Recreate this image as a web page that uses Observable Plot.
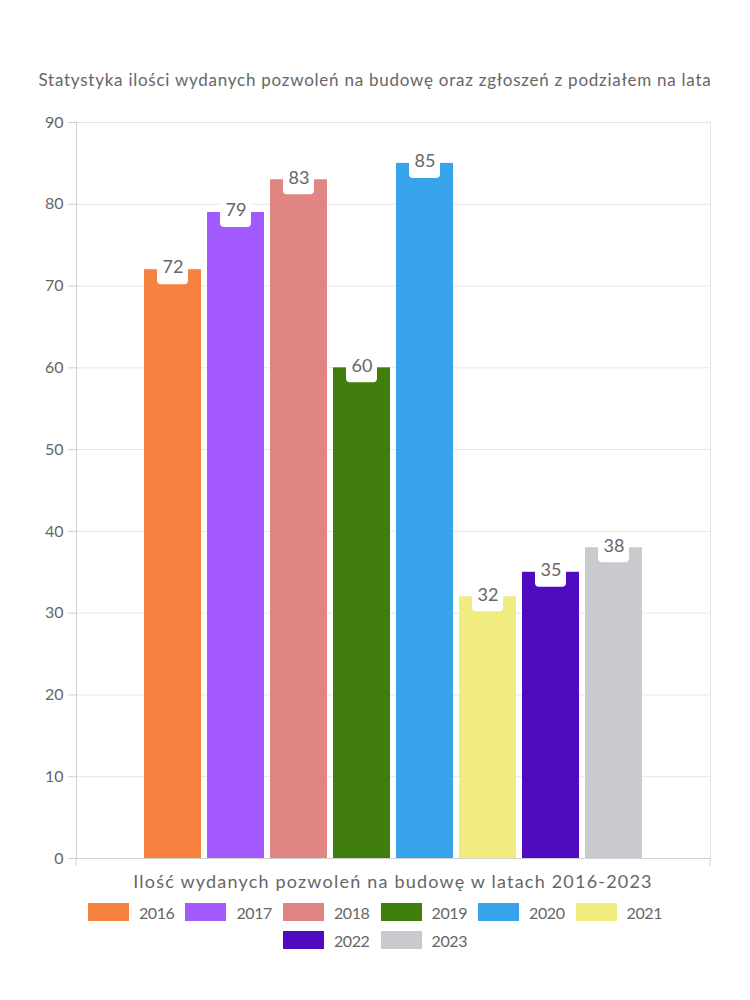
<!DOCTYPE html>
<html><head><meta charset="utf-8">
<script src="https://cdn.jsdelivr.net/npm/d3@7"></script>
<script src="https://cdn.jsdelivr.net/npm/@observablehq/plot@0.6"></script>
<style>
body{margin:0;background:#fff;font-family:Lato,sans-serif;color:#666;width:750px;}
#title{padding-top:70px;height:40px;line-height:20px;font-size:17px;letter-spacing:0.75px;text-align:center;white-space:nowrap;}
#chart svg{display:block;}
#xlabel{padding-top:2px;padding-left:76px;padding-right:40px;height:22px;line-height:22px;font-size:18px;letter-spacing:1.2px;text-align:center;white-space:nowrap;}
#legend{display:flex;flex-wrap:wrap;justify-content:center;column-gap:11px;row-gap:10px;max-width:600px;margin:11px auto 0;}
.item{display:flex;align-items:center;height:18px;font-size:16px;letter-spacing:-0.4px;}
.sw{width:41px;height:18px;margin-right:10px;}
</style></head><body>
<div id="title"></div>
<div id="chart"></div>
<div id="xlabel"></div>
<div id="legend"></div>
<script>
const titleText = "Statystyka ilości wydanych pozwoleń na budowę oraz zgłoszeń z podziałem na lata";
const xLabelText = "Ilość wydanych pozwoleń na budowę w latach 2016-2023";
const years = ["2016","2017","2018","2019","2020","2021","2022","2023"];
const values = [72, 79, 83, 60, 85, 32, 35, 38];
const colors = ["#F5833F","#A259FE","#E08484","#3F7E0C","#37A3EA","#F1EC80","#500BC1","#C9CACD"];
const yTicks = [0,10,20,30,40,50,60,70,80,90];

const data = years.map((y,i) => ({year: y, value: values[i], color: colors[i]}));

document.getElementById("title").textContent = titleText;
document.getElementById("xlabel").textContent = xLabelText;

const W = 750, mL = 76, mR = 40;
const innerW = W - mL - mR;

const edgeTicks = (index, scales, values, dims) => {
  const g = document.createElementNS("http://www.w3.org/2000/svg", "g");
  const yb = dims.height - dims.marginBottom;
  for (const x of [dims.marginLeft, dims.width - dims.marginRight]) {
    const l = document.createElementNS("http://www.w3.org/2000/svg", "line");
    l.setAttribute("x1", x); l.setAttribute("x2", x);
    l.setAttribute("y1", yb); l.setAttribute("y2", yb + 8);
    l.setAttribute("stroke", "#d0d0d0");
    g.appendChild(l);
  }
  return g;
};

const chart = Plot.plot({
  width: W,
  height: 758,
  marginTop: 12,
  marginBottom: 10,
  marginLeft: mL,
  marginRight: mR,
  style: {fontFamily: "Lato, sans-serif", color: "#666", background: "#fff"},
  x: {type: "band", domain: years, range: [mL + 0.1 * innerW, mL + 0.9 * innerW], paddingInner: 0.1, paddingOuter: 0.05, axis: null},
  y: {domain: [0, 90], axis: null},
  marks: [
    Plot.gridY(yTicks, {stroke: "#e6e6e6", strokeOpacity: 1}),
    Plot.frame({stroke: "#e6e6e6"}),
    Plot.barY(data, {x: "year", y: "value", fill: "color"}),
    Plot.barY(data, {x: "year", y1: "value", y2: "value", fill: "white", insetLeft: 13, insetRight: 13, insetTop: -15, insetBottom: -15, rx: 4}),
    Plot.text(data, {x: "year", y: "value", text: d => String(d.value), fill: "#666", fontSize: 18, dy: -2}),
    Plot.ruleY([0], {stroke: "#d0d0d0"}),
    Plot.frame({anchor: "left", stroke: "#d0d0d0"}),
    Plot.axisY(yTicks, {tickSize: 8, tickPadding: 5, fontSize: 16, stroke: "#d0d0d0", fill: "#666", label: null}),
    edgeTicks
  ]
});
document.getElementById("chart").appendChild(chart);

const legend = document.getElementById("legend");
data.forEach(d => {
  const it = document.createElement("div");
  it.className = "item";
  const sw = document.createElement("div");
  sw.className = "sw";
  sw.style.background = d.color;
  const t = document.createElement("span");
  t.textContent = d.year;
  it.appendChild(sw); it.appendChild(t);
  legend.appendChild(it);
});
</script>
</body></html>
